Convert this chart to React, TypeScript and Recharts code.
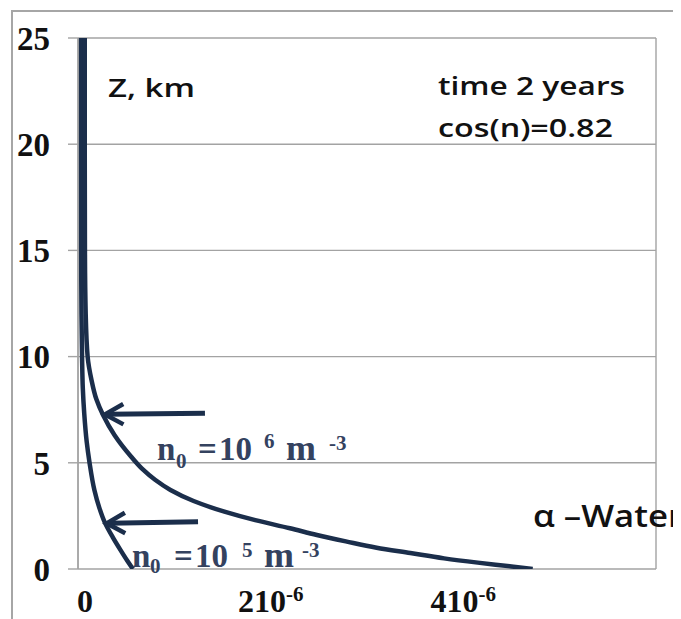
import React from "react";
import { LineChart, Line, XAxis, YAxis, CartesianGrid, ReferenceLine } from "recharts";

// Altitude Z (km) and values (units of 1e-6)
const upperZ = [25, 20, 15, 12, 10, 8.9, 8, 7.25, 6.3, 5.3, 4.7, 4.2, 3.72, 3.2, 2.7, 2.3, 1.92, 1.6, 1.3, 1.0, 0.75, 0.5, 0.3, 0.12, 0];
const upperX = [0.07, 0.07, 0.072, 0.08, 0.1, 0.14, 0.19, 0.26, 0.38, 0.55, 0.67, 0.8, 0.96, 1.2, 1.52, 1.84, 2.2, 2.48, 2.78, 3.1, 3.45, 3.8, 4.15, 4.5, 4.72];
const lowerZ = [25, 20, 15, 12, 10, 8.5, 7.3, 6, 5, 3.72, 2.9, 2.17, 1.5, 0.9, 0.4, 0];
const lowerX = [0.03, 0.03, 0.032, 0.036, 0.042, 0.05, 0.065, 0.09, 0.12, 0.17, 0.22, 0.28, 0.36, 0.44, 0.51, 0.57];

const gridTicksX = [0, 1.5, 3, 4.5, 6];
const labelTicksX = [0, 2, 4];
const ticksY = [0, 5, 10, 15, 20, 25];

const arrowUpper = [{ x: 1.318, z: 7.33 }, { x: 0.28, z: 7.28 }];
const arrowLower = [{ x: 1.246, z: 2.23 }, { x: 0.298, z: 2.15 }];

const upperData = upperZ.map((z, i) => ({ x: upperX[i], z }));
const lowerData = lowerZ.map((z, i) => ({ x: lowerX[i], z }));

const NAVY = "#1b2e4b";
const GRID = "#a3a3a3";
const SERIF = "'Liberation Serif', 'Times New Roman', serif";
const SANS = "'Open Sans', 'Liberation Sans', sans-serif";
const TEXTC = "#34425f";

const XTick = (props: any) => {
  const { x, y, payload } = props;
  const v = payload.value;
  if (v === 0) {
    return (
      <text x={x + 7} y={y + 43} textAnchor="middle" fontFamily={SERIF} fontWeight="bold" fontSize={32} fill="#111">
        0
      </text>
    );
  }
  return (
    <text x={x} y={y + 43} textAnchor="middle" fontFamily={SERIF} fontWeight="bold" fill="#111">
      <tspan fontSize={32}>{`${v}10`}</tspan>
      <tspan fontSize={21} dy={-11}>-6</tspan>
    </text>
  );
};

const Arrow = (props: any) => {
  const { x1, y1, x2, y2 } = props;
  if ([x1, y1, x2, y2].some((v) => typeof v !== "number" || isNaN(v))) return null;
  const dx = x1 - x2;
  const dy = y1 - y2;
  const len = Math.sqrt(dx * dx + dy * dy) || 1;
  const ux = dx / len;
  const uy = dy / len;
  const bl = 21;
  const ang = (29 * Math.PI) / 180;
  const c = Math.cos(ang);
  const s = Math.sin(ang);
  const b1x = x2 + bl * (ux * c - uy * s);
  const b1y = y2 + bl * (uy * c + ux * s);
  const b2x = x2 + bl * (ux * c + uy * s);
  const b2y = y2 + bl * (uy * c - ux * s);
  return (
    <g>
      <line x1={x1} y1={y1} x2={x2 + ux * 2} y2={y2 + uy * 2} stroke={NAVY} strokeWidth={5} />
      <polyline points={`${b1x},${b1y} ${x2},${y2} ${b2x},${b2y}`} fill="none" stroke={NAVY} strokeWidth={4.5} strokeLinejoin="miter" />
    </g>
  );
};

export default function App() {
  return (
    <div style={{ position: "relative", width: 673, height: 611, overflow: "hidden", background: "#fff" }}>
      <div
        style={{
          position: "absolute",
          left: 3,
          top: 2,
          width: 668,
          height: 700,
          border: "2px solid #a6a6a6",
          boxSizing: "border-box",
        }}
      />
      <div style={{ position: "absolute", left: 0, top: 0 }}>
        <LineChart width={673} height={611} margin={{ top: 30, right: 25, bottom: 0, left: 0 }}>
          <CartesianGrid xAxisId="g" stroke={GRID} strokeWidth={1.4} />
          <XAxis
            xAxisId="g"
            type="number"
            dataKey="x"
            domain={[0, 6]}
            ticks={gridTicksX}
            allowDataOverflow
            tick={false}
            tickLine={false}
            axisLine={{ stroke: GRID, strokeWidth: 1.4 }}
            height={0}
          />
          <XAxis
            xAxisId="l"
            type="number"
            dataKey="x"
            domain={[0, 6]}
            ticks={labelTicksX}
            allowDataOverflow
            axisLine={false}
            tickLine={false}
            tickSize={0}
            tickMargin={0}
            tick={<XTick />}
            height={50}
          />
          <YAxis
            type="number"
            dataKey="z"
            domain={[0, 25]}
            ticks={ticksY}
            allowDataOverflow
            width={70}
            tickSize={10}
            tickMargin={18}
            axisLine={{ stroke: GRID, strokeWidth: 1.4 }}
            tickLine={{ stroke: GRID, strokeWidth: 1.4 }}
            tick={{ fontFamily: SERIF, fontWeight: "bold", fontSize: 33, fill: "#111" }}
          />
          <Line
            xAxisId="g"
            data={lowerData}
            dataKey="z"
            type="monotoneY"
            stroke={NAVY}
            strokeWidth={4.5}
            dot={false}
            activeDot={false}
            isAnimationActive={false}
          />
          <Line
            xAxisId="g"
            data={upperData}
            dataKey="z"
            type="monotoneY"
            stroke={NAVY}
            strokeWidth={4.5}
            dot={false}
            activeDot={false}
            isAnimationActive={false}
          />
          <ReferenceLine
            xAxisId="g"
            segment={arrowUpper.map((p) => ({ x: p.x, y: p.z }))}
            shape={(p: any) => <Arrow {...p} />}
            ifOverflow="visible"
          />
          <ReferenceLine
            xAxisId="g"
            segment={arrowLower.map((p) => ({ x: p.x, y: p.z }))}
            shape={(p: any) => <Arrow {...p} />}
            ifOverflow="visible"
          />
        </LineChart>
      </div>
      <svg width={673} height={611} style={{ position: "absolute", left: 0, top: 0, pointerEvents: "none" }}>
        <text x={100} y={89} fontFamily={SANS} fontWeight={600} fontSize={26} fill="#111" textLength={87} lengthAdjust="spacingAndGlyphs">
          Z, km
        </text>
        <text x={430} y={87} fontFamily={SANS} fontWeight={600} fontSize={26} fill="#111" textLength={187} lengthAdjust="spacingAndGlyphs">
          time 2 years
        </text>
        <text x={430} y={129} fontFamily={SANS} fontWeight={600} fontSize={26} fill="#111" textLength={175} lengthAdjust="spacingAndGlyphs">
          cos(n)=0.82
        </text>
        <text x={525} y={519} fontFamily={SANS} fontWeight={600} fontSize={30} fill="#111" textLength={150} lengthAdjust="spacingAndGlyphs">
          α –Water
        </text>
        <g fontFamily={SERIF} fontWeight="bold" fill={TEXTC}>
          <text x={149} y={452} fontSize={33}>n</text>
          <text x={168} y={460} fontSize={21}>0</text>
          <text x={190} y={452} fontSize={33}>=</text>
          <text x={211} y={452} fontSize={33}>10</text>
          <text x={256} y={440} fontSize={21}>6</text>
          <text x={278} y={452} fontSize={36}>m</text>
          <text x={321} y={442} fontSize={21}>-3</text>
        </g>
        <g fontFamily={SERIF} fontWeight="bold" fill={TEXTC}>
          <text x={124} y={559} fontSize={33}>n</text>
          <text x={142} y={565} fontSize={21}>0</text>
          <text x={166} y={559} fontSize={33}>=</text>
          <text x={187} y={559} fontSize={33}>10</text>
          <text x={234} y={549} fontSize={21}>5</text>
          <text x={256} y={559} fontSize={36}>m</text>
          <text x={294} y={549} fontSize={21}>-3</text>
        </g>
      </svg>
    </div>
  );
}
